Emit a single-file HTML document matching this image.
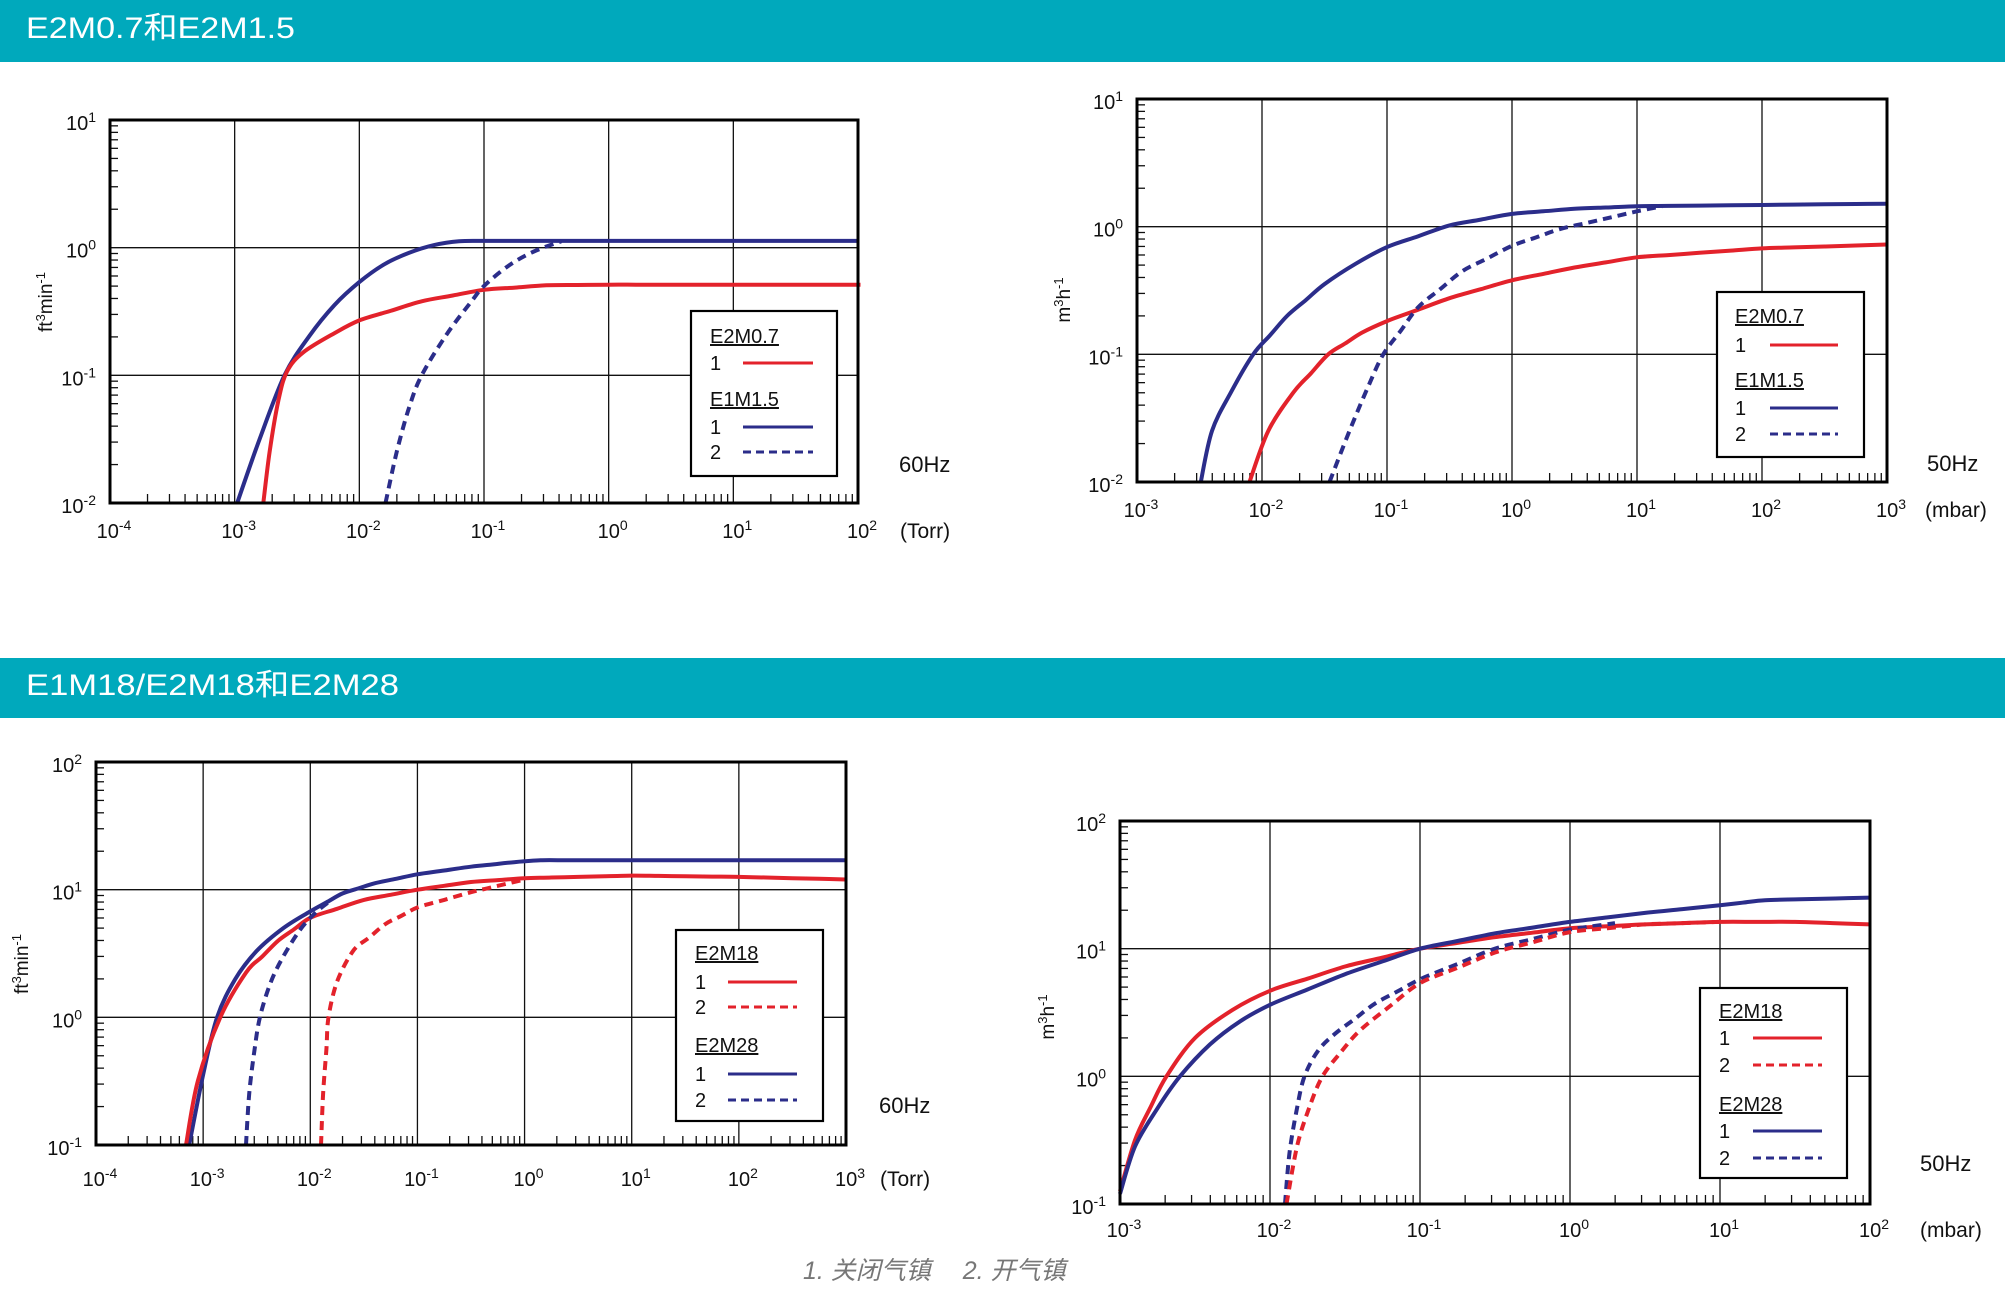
<!DOCTYPE html>
<html><head><meta charset="utf-8"><style>
html,body{margin:0;padding:0;background:#fff;}
svg{display:block;}
text{font-family:"Liberation Sans","Noto Sans CJK SC",sans-serif;}
</style></head><body>
<svg id="s" width="2009" height="1304" viewBox="0 0 2009 1304" xmlns="http://www.w3.org/2000/svg">
<rect x="0" y="0" width="2005" height="62" fill="#00A9BC"/>
<rect x="0" y="658" width="2005" height="60" fill="#00A9BC"/>
<text x="26" y="38" font-size="30" fill="#fff" textLength="269" lengthAdjust="spacingAndGlyphs">E2M0.7和E2M1.5</text>
<text x="26" y="695" font-size="30" fill="#fff" textLength="373" lengthAdjust="spacingAndGlyphs">E1M18/E2M18和E2M28</text>
<text x="803" y="1279" font-size="25" fill="#777" font-style="italic" font-family="'Liberation Serif','Noto Serif CJK SC',serif">1. 关闭气镇　 2. 开气镇</text>
<g id="g"></g>
</svg>
<script>
var NS="http://www.w3.org/2000/svg",G=document.getElementById('g');
function el(t,a,txt){var e=document.createElementNS(NS,t);for(var k in a)e.setAttribute(k,a[k]);if(txt!==undefined)e.textContent=txt;G.appendChild(e);return e;}
function pow(x,y,base,exp,anchor,fs){
  var t=el('text',{x:x,y:y,'font-size':fs||19,'text-anchor':anchor||'middle',fill:'#111'});
  var a=document.createElementNS(NS,'tspan');a.textContent=base;t.appendChild(a);
  var b=document.createElementNS(NS,'tspan');b.setAttribute('font-size',(fs||19)*0.7);b.setAttribute('dy',-8);b.textContent=exp;t.appendChild(b);
}
function sup(n){return n<0?'-'+(-n):''+n;}
function densify(p){
  var out=[p[0]];
  for(var i=1;i<p.length;i++){
    var a=p[i-1],b=p[i],n=Math.ceil(Math.abs(b[0]-a[0])/0.25);
    for(var k=1;k<n;k++)out.push([a[0]+(b[0]-a[0])*k/n,a[1]+(b[1]-a[1])*k/n]);
    out.push(b);
  }return out;
}
function path(pts){
  var d='M'+pts[0][0].toFixed(1)+','+pts[0][1].toFixed(1);
  for(var i=0;i<pts.length-1;i++){
    var p0=pts[i-1]||pts[i],p1=pts[i],p2=pts[i+1],p3=pts[i+2]||p2;
    var c1=[p1[0]+(p2[0]-p0[0])/6,p1[1]+(p2[1]-p0[1])/6],c2=[p2[0]-(p3[0]-p1[0])/6,p2[1]-(p3[1]-p1[1])/6];
    d+='C'+c1[0].toFixed(1)+','+c1[1].toFixed(1)+' '+c2[0].toFixed(1)+','+c2[1].toFixed(1)+' '+p2[0].toFixed(1)+','+p2[1].toFixed(1);
  }return d;
}
function chart(c){
  var x0=c.x0,x1=c.x1,y0=c.y0,y1=c.y1;
  var nx=c.xmax-c.xmin,ny=c.ymax-c.ymin;
  var X=function(l){return x0+(l-c.xmin)*(x1-x0)/nx;},Y=function(l){return y1-(l-c.ymin)*(y1-y0)/ny;};
  for(var i=1;i<nx;i++)el('line',{x1:X(c.xmin+i),x2:X(c.xmin+i),y1:y0,y2:y1,stroke:'#111','stroke-width':1.3});
  for(var j=1;j<ny;j++)el('line',{x1:x0,x2:x1,y1:Y(c.ymin+j),y2:Y(c.ymin+j),stroke:'#111','stroke-width':1.3});
  for(i=0;i<nx;i++)for(var m=2;m<10;m++){var xx=X(c.xmin+i+Math.log10(m));el('line',{x1:xx,x2:xx,y1:y1,y2:y1-9,stroke:'#111','stroke-width':1.3});}
  for(j=0;j<ny;j++)for(m=2;m<10;m++){var yy=Y(c.ymin+j+Math.log10(m));el('line',{x1:x0,x2:x0+8,y1:yy,y2:yy,stroke:'#111','stroke-width':1.3});}
  c.curves.forEach(function(cv){
    var pts=densify(cv.p).map(function(q){return [X(q[0]),Y(q[1])];});
    var a={d:path(pts),fill:'none',stroke:cv.c=='r'?'#e3222b':'#2b2d8a','stroke-width':4,'stroke-linecap':'butt'};
    if(cv.d){a['stroke-dasharray']='9,6';}
    el('path',a);
  });
  el('rect',{x:x0,y:y0,width:x1-x0,height:y1-y0,fill:'none',stroke:'#000','stroke-width':3});
  for(i=0;i<=nx;i++)pow(X(c.xmin+i)+4,c.xly,'10',sup(c.xmin+i),'middle',20);
  for(j=0;j<=ny;j++)pow(x0-14,Y(c.ymin+j)+10,'10',sup(c.ymin+j),'end',20);
  el('text',{x:c.ux,y:c.xly,'font-size':21,fill:'#111'},c.unit);
  el('text',{x:c.hx,y:c.hy,'font-size':22,fill:'#111'},c.hz);
  var yl=el('text',{x:0,y:0,'font-size':19,fill:'#111','text-anchor':'middle',transform:'translate('+c.ylx+','+c.yly+') rotate(-90)'});
  yl.innerHTML=c.ylab;
  var L=c.leg;
  el('rect',{x:L.x,y:L.y,width:L.w,height:L.h,fill:'#fff',stroke:'#000','stroke-width':2.2});
  L.items.forEach(function(it){
    if(it.t){el('text',{x:L.tx,y:it.y+7,'font-size':20,fill:'#111','text-decoration':'underline'},it.t);}
    else{el('text',{x:L.tx,y:it.y+7,'font-size':20,fill:'#111'},it.n);
      var a={x1:L.lx0,x2:L.lx1,y1:it.y,y2:it.y,stroke:it.c=='r'?'#e3222b':'#2b2d8a','stroke-width':3};
      if(it.d)a['stroke-dasharray']='8,5';el('line',a);}
  });
}
var YL1='ft<tspan dy="-7" font-size="13">3</tspan><tspan dy="7">min</tspan><tspan dy="-7" font-size="13">-1</tspan>';
var YL2='m<tspan dy="-7" font-size="13">3</tspan><tspan dy="7">h</tspan><tspan dy="-7" font-size="13">-1</tspan>';
chart({x0:110,x1:858,y0:120,y1:503,xmin:-4,xmax:2,ymin:-2,ymax:1,xly:538,unit:'(Torr)',ux:900,hz:'60Hz',hx:899,hy:472,ylx:52,yly:302,ylab:YL1,
 leg:{x:691,y:311,w:146,h:165,tx:710,lx0:743,lx1:813,items:[{t:'E2M0.7',y:336},{n:'1',y:363,c:'r'},{t:'E1M1.5',y:399},{n:'1',y:427,c:'b'},{n:'2',y:452,c:'b',d:1}]},
 curves:[
 {c:'b',p:[[-2.98,-2],[-2.8,-1.5],[-2.6,-1],[-2.4,-0.69],[-2.2,-0.45],[-2,-0.27],[-1.8,-0.13],[-1.6,-0.04],[-1.4,0.02],[-1.2,0.05],[-1.0,0.053],[2,0.053]]},
 {c:'r',p:[[-2.77,-2],[-2.72,-1.6],[-2.65,-1.2],[-2.58,-0.97],[-2.45,-0.82],[-2.2,-0.67],[-2,-0.57],[-1.5,-0.42],[-1,-0.33],[-0.5,-0.295],[0,-0.29],[2.02,-0.29]]},
 {c:'b',d:1,p:[[-1.79,-2],[-1.7,-1.6],[-1.6,-1.25],[-1.5,-1],[-1.3,-0.68],[-1.1,-0.42],[-1,-0.3],[-0.8,-0.14],[-0.6,-0.03],[-0.38,0.05]]}]});
chart({x0:1137,x1:1887,y0:99,y1:482,xmin:-3,xmax:3,ymin:-2,ymax:1,xly:517,unit:'(mbar)',ux:1925,hz:'50Hz',hx:1927,hy:471,ylx:1070,yly:300,ylab:YL2,
 leg:{x:1717,y:292,w:147,h:165,tx:1735,lx0:1770,lx1:1838,items:[{t:'E2M0.7',y:316},{n:'1',y:345,c:'r'},{t:'E1M1.5',y:380},{n:'1',y:408,c:'b'},{n:'2',y:434,c:'b',d:1}]},
 curves:[
 {c:'b',p:[[-2.49,-2],[-2.4,-1.6],[-2.25,-1.3],[-2.07,-1],[-1.8,-0.7],[-1.5,-0.45],[-1.25,-0.29],[-1,-0.16],[-0.5,0.01],[0,0.1],[0.5,0.14],[1,0.16],[2,0.17],[3,0.18]]},
 {c:'r',p:[[-2.1,-2],[-1.95,-1.6],[-1.75,-1.3],[-1.47,-1],[-1.2,-0.83],[-1,-0.74],[-0.5,-0.56],[0,-0.42],[0.5,-0.32],[1,-0.24],[2,-0.17],[3,-0.14]]},
 {c:'b',d:1,p:[[-1.46,-2],[-1.3,-1.6],[-1.15,-1.25],[-1.03,-1],[-0.75,-0.63],[-0.4,-0.35],[0,-0.15],[0.38,-0.02],[1,0.12],[1.2,0.16]]}]});
chart({x0:96,x1:846,y0:762,y1:1145,xmin:-4,xmax:3,ymin:-1,ymax:2,xly:1186,unit:'(Torr)',ux:880,hz:'60Hz',hx:879,hy:1113,ylx:28,yly:964,ylab:YL1,
 leg:{x:676,y:930,w:147,h:191,tx:695,lx0:728,lx1:797,items:[{t:'E2M18',y:953},{n:'1',y:982,c:'r'},{n:'2',y:1007,c:'r',d:1},{t:'E2M28',y:1045},{n:'1',y:1074,c:'b'},{n:'2',y:1100,c:'b',d:1}]},
 curves:[
 {c:'b',p:[[-3.13,-1],[-3.0,-0.45],[-2.87,0],[-2.7,0.3],[-2.5,0.52],[-2.25,0.7],[-2,0.83],[-1.7,0.97],[-1.4,1.05],[-1,1.12],[-0.5,1.18],[-0.1,1.215],[0.15,1.23],[3,1.23]]},
 {c:'r',p:[[-3.16,-1],[-3.05,-0.5],[-2.84,0],[-2.6,0.35],[-2.3,0.6],[-2,0.78],[-1.5,0.92],[-1,1.0],[-0.5,1.06],[0,1.09],[1,1.11],[2,1.1],[3,1.08]]},
 {c:'b',d:1,p:[[-2.6,-1],[-2.57,-0.6],[-2.52,-0.25],[-2.47,0],[-2.38,0.25],[-2.27,0.45],[-2.1,0.68],[-1.95,0.82],[-1.8,0.92]]},
 {c:'r',d:1,p:[[-1.9,-1],[-1.88,-0.6],[-1.85,-0.25],[-1.83,0],[-1.75,0.28],[-1.6,0.52],[-1.3,0.73],[-1,0.86],[-0.5,0.98],[-0.2,1.04],[0,1.08]]}]});
chart({x0:1120,x1:1870,y0:821,y1:1204,xmin:-3,xmax:2,ymin:-1,ymax:2,xly:1237,unit:'(mbar)',ux:1920,hz:'50Hz',hx:1920,hy:1171,ylx:1054,yly:1017,ylab:YL2,
 leg:{x:1700,y:988,w:147,h:190,tx:1719,lx0:1753,lx1:1822,items:[{t:'E2M18',y:1011},{n:'1',y:1038,c:'r'},{n:'2',y:1065,c:'r',d:1},{t:'E2M28',y:1104},{n:'1',y:1131,c:'b'},{n:'2',y:1158,c:'b',d:1}]},
 curves:[
 {c:'r',p:[[-3,-0.9],[-2.9,-0.5],[-2.8,-0.25],[-2.69,0],[-2.5,0.3],[-2.25,0.52],[-2,0.67],[-1.5,0.86],[-1,1.0],[-0.5,1.09],[0,1.16],[0.5,1.19],[1,1.21],[1.5,1.21],[2,1.19]]},
 {c:'b',p:[[-3,-0.92],[-2.9,-0.55],[-2.75,-0.25],[-2.6,0],[-2.4,0.25],[-2.2,0.43],[-2,0.56],[-1.5,0.8],[-1,1.0],[-0.5,1.12],[0,1.21],[0.5,1.28],[1,1.34],[1.3,1.38],[2,1.4]]},
 {c:'b',d:1,p:[[-1.9,-1],[-1.87,-0.6],[-1.82,-0.25],[-1.77,0],[-1.68,0.2],[-1.57,0.33],[-1.3,0.57],[-1,0.76],[-0.5,1.0],[0,1.15],[0.3,1.2]]},
 {c:'r',d:1,p:[[-1.89,-1],[-1.82,-0.55],[-1.74,-0.25],[-1.65,0],[-1.52,0.2],[-1.4,0.36],[-1.2,0.55],[-1,0.73],[-0.5,0.97],[0,1.13],[0.5,1.19],[1,1.21]]}]});
</script>
</body></html>
